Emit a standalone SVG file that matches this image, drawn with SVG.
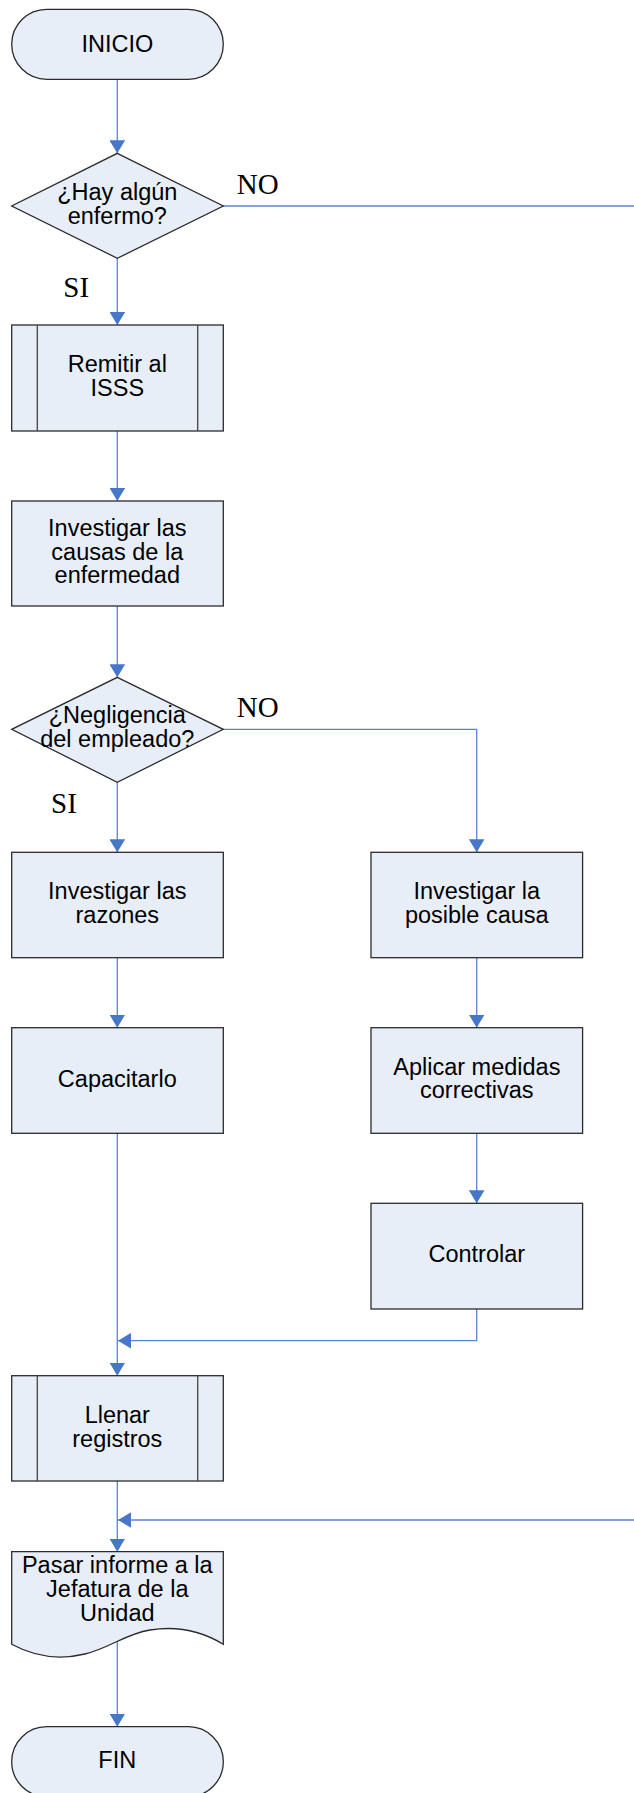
<svg xmlns="http://www.w3.org/2000/svg" width="634" height="1793" viewBox="0 0 634 1793">
<defs>
<style>
.n{fill:#E8EEF8;stroke:#2b2b2b;stroke-width:1.3}
.sub{stroke:#444;stroke-width:1.3;fill:none}
.t{font-family:"Liberation Sans",Arial,sans-serif;font-size:23.5px;fill:#000;text-anchor:middle}
.l{font-family:"Liberation Serif","Times New Roman",serif;font-size:29px;fill:#000}
.c{fill:none;stroke:#5A85CE;stroke-width:1.3}
</style>
<marker id="ah" viewBox="0 0 13 15.6" refX="13" refY="7.8" markerWidth="13" markerHeight="15.6" orient="auto" markerUnits="userSpaceOnUse">
<path d="M0,0 L13,7.8 L0,15.6 z" fill="#4677C8"/>
</marker>
</defs>
<rect width="634" height="1793" fill="#fff"/>
<g id="connectors">
<line class="c" x1="117.3" y1="79.3" x2="117.3" y2="153.3" marker-end="url(#ah)"/>
<line class="c" x1="117.3" y1="258.3" x2="117.3" y2="325" marker-end="url(#ah)"/>
<line class="c" x1="117.3" y1="431" x2="117.3" y2="501" marker-end="url(#ah)"/>
<line class="c" x1="117.3" y1="606" x2="117.3" y2="677.3" marker-end="url(#ah)"/>
<line class="c" x1="117.3" y1="782.3" x2="117.3" y2="852.3" marker-end="url(#ah)"/>
<polyline class="c" points="223.3,729.3 476.7,729.3 476.7,852.3" marker-end="url(#ah)"/>
<line class="c" x1="117.3" y1="957.7" x2="117.3" y2="1027.7" marker-end="url(#ah)"/>
<line class="c" x1="476.7" y1="957.7" x2="476.7" y2="1027.7" marker-end="url(#ah)"/>
<line class="c" x1="476.7" y1="1133.3" x2="476.7" y2="1203.3" marker-end="url(#ah)"/>
<line class="c" x1="117.3" y1="1133.3" x2="117.3" y2="1375.7" marker-end="url(#ah)"/>
<polyline class="c" points="476.7,1309 476.7,1340.7 118,1340.7" marker-end="url(#ah)"/>
<line class="c" x1="117.3" y1="1481" x2="117.3" y2="1551.7" marker-end="url(#ah)"/>
<line class="c" x1="223.3" y1="206" x2="634" y2="206"/>
<line class="c" x1="634" y1="1520" x2="118" y2="1520" marker-end="url(#ah)"/>
<line class="c" x1="117.3" y1="1641" x2="117.3" y2="1726.7" marker-end="url(#ah)"/>
</g>
<g id="inicio">
<rect class="n" x="11.7" y="9.3" width="211.6" height="70" rx="35" ry="35"/>
<text class="t" x="117.3" y="52">INICIO</text>
</g>
<g id="d1">
<polygon class="n" points="117.3,153.3 223.3,206 117.3,258.3 11.7,206"/>
<text class="t" x="117.3" y="200">¿Hay algún</text>
<text class="t" x="117.3" y="223.5">enfermo?</text>
</g>
<g id="lbl-no1"><text class="l" x="236.7" y="194">NO</text></g>
<g id="lbl-si1"><text class="l" x="63.3" y="297">SI</text></g>
<g id="remitir">
<rect class="n" x="11.7" y="325" width="211.6" height="106"/>
<line class="sub" x1="37.3" y1="325" x2="37.3" y2="431"/>
<line class="sub" x1="197.7" y1="325" x2="197.7" y2="431"/>
<text class="t" x="117.3" y="371.7">Remitir al</text>
<text class="t" x="117.3" y="396">ISSS</text>
</g>
<g id="investigar-causas">
<rect class="n" x="11.7" y="501" width="211.6" height="105"/>
<text class="t" x="117.3" y="536">Investigar las</text>
<text class="t" x="117.3" y="559.5">causas de la</text>
<text class="t" x="117.3" y="583.3">enfermedad</text>
</g>
<g id="d2">
<polygon class="n" points="117.3,677.3 223.3,729.3 117.3,782.3 11.7,729.3"/>
<text class="t" x="117.3" y="723.3">¿Negligencia</text>
<text class="t" x="117.3" y="747.3">del empleado?</text>
</g>
<g id="lbl-no2"><text class="l" x="236.7" y="717.3">NO</text></g>
<g id="lbl-si2"><text class="l" x="51" y="812.7">SI</text></g>
<g id="razones">
<rect class="n" x="11.7" y="852.3" width="211.6" height="105.4"/>
<text class="t" x="117.3" y="899">Investigar las</text>
<text class="t" x="117.3" y="922.7">razones</text>
</g>
<g id="posible">
<rect class="n" x="371" y="852.3" width="211.6" height="105.4"/>
<text class="t" x="476.8" y="899">Investigar la</text>
<text class="t" x="476.8" y="922.7">posible causa</text>
</g>
<g id="capacitarlo">
<rect class="n" x="11.7" y="1027.7" width="211.6" height="105.6"/>
<text class="t" x="117.3" y="1086.7">Capacitarlo</text>
</g>
<g id="aplicar">
<rect class="n" x="371" y="1027.7" width="211.6" height="105.6"/>
<text class="t" x="476.8" y="1075">Aplicar medidas</text>
<text class="t" x="476.8" y="1098.3">correctivas</text>
</g>
<g id="controlar">
<rect class="n" x="371" y="1203.3" width="211.6" height="105.7"/>
<text class="t" x="476.8" y="1262.3">Controlar</text>
</g>
<g id="llenar">
<rect class="n" x="11.7" y="1375.7" width="211.6" height="105.3"/>
<line class="sub" x1="37.3" y1="1375.7" x2="37.3" y2="1481"/>
<line class="sub" x1="197.7" y1="1375.7" x2="197.7" y2="1481"/>
<text class="t" x="117.3" y="1423.3">Llenar</text>
<text class="t" x="117.3" y="1446.7">registros</text>
</g>
<g id="informe">
<path class="n" d="M11.7,1551.7 H223.3 V1644.3 C200,1630 175,1626 150,1630 C125,1634 110,1648 85,1654 C60,1660 35,1657 11.7,1644.3 Z"/>
<text class="t" x="117.3" y="1572.7">Pasar informe a la</text>
<text class="t" x="117.3" y="1596.7">Jefatura de la</text>
<text class="t" x="117.3" y="1620.7">Unidad</text>
</g>
<g id="fin">
<rect class="n" x="11.7" y="1726.7" width="211.6" height="70" rx="35" ry="35"/>
<text class="t" x="117.3" y="1768.3">FIN</text>
</g>
</svg>
